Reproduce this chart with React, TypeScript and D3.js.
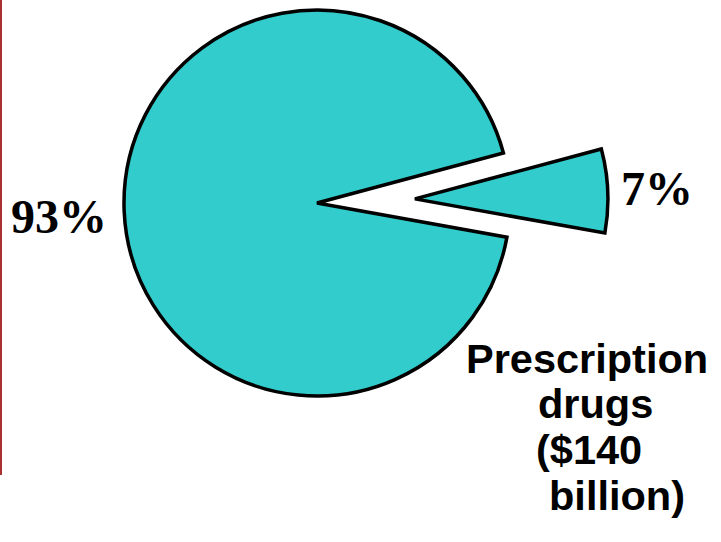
import React from "react";
import * as d3 from "d3";

const categories = ["Prescription drugs", "Other"];
const shares = [7, 93];
const percentLabels = ["7%", "93%"];
const noteLines = ["Prescription", "drugs", "($140", "billion)"];

const W = 721;
const H = 542;
const cx = 317;
const cy = 203;
const R = 193;
const explode = 98;

export default function App() {
  const start = (75 * Math.PI) / 180;
  const pie = d3
    .pie<number>()
    .sort(null)
    .value((d) => d)
    .startAngle(start)
    .endAngle(start + 2 * Math.PI);
  const arcs = pie(shares);
  const arc = d3.arc<d3.PieArcDatum<number>>().innerRadius(0).outerRadius(R);

  const noteX = [466, 538, 536, 549];
  const noteY = [373, 418, 464, 510];

  return (
    <svg
      width={W}
      height={H}
      style={{ position: "fixed", left: 0, top: 0, background: "#fff" }}
    >
      <line x1={1} y1={0} x2={1} y2={475} stroke="#a83232" strokeWidth={2} />
      {arcs.map((a, i) => {
        const mid = (a.startAngle + a.endAngle) / 2;
        const off = i === 0 ? explode : 0;
        const dx = Math.sin(mid) * off;
        const dy = -Math.cos(mid) * off;
        return (
          <path
            key={categories[i]}
            d={arc(a) || ""}
            transform={`translate(${cx + dx},${cy + dy})`}
            fill="#33CCCC"
            stroke="#000"
            strokeWidth={3.5}
            strokeLinejoin="miter"
          />
        );
      })}
      <text
        x={11}
        y={233}
        fontFamily="'Liberation Serif', 'Times New Roman', serif"
        fontWeight="bold"
        fontSize={48}
        fill="#000"
      >
        {percentLabels[1]}
      </text>
      <text
        x={621}
        y={205}
        fontFamily="'Liberation Serif', 'Times New Roman', serif"
        fontWeight="bold"
        fontSize={48}
        fill="#000"
      >
        {percentLabels[0]}
      </text>
      {noteLines.map((t, i) => (
        <text
          key={t}
          x={noteX[i]}
          y={noteY[i]}
          fontFamily="'Liberation Sans', Arial, sans-serif"
          fontWeight="bold"
          fontSize={41.5}
          fill="#000"
        >
          {t}
        </text>
      ))}
    </svg>
  );
}
